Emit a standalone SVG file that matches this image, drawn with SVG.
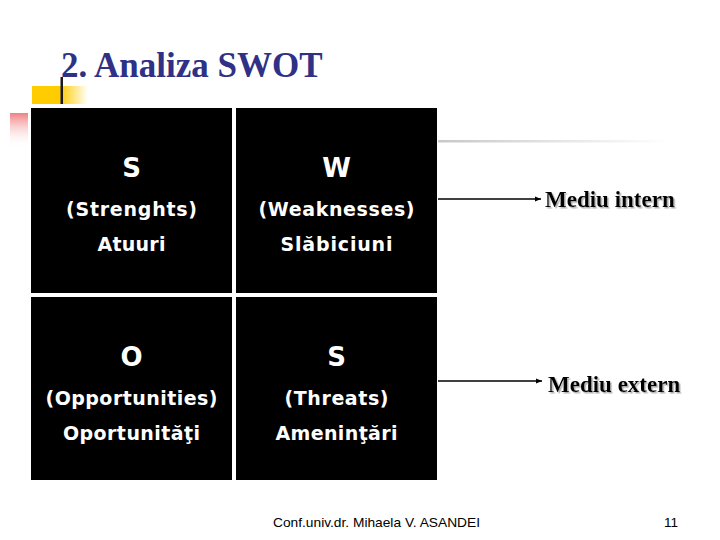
<svg xmlns="http://www.w3.org/2000/svg" width="720" height="540" viewBox="0 0 720 540">
<defs>
<linearGradient id="gY" x1="0" y1="0" x2="1" y2="0">
<stop offset="0" stop-color="#FFCC00"/><stop offset="0.5" stop-color="#FFCC00"/><stop offset="1" stop-color="#FFCC00" stop-opacity="0"/>
</linearGradient>
<linearGradient id="gR" x1="0" y1="0" x2="0" y2="1">
<stop offset="0" stop-color="#F08080"/><stop offset="1" stop-color="#FFFFFF" stop-opacity="0"/>
</linearGradient>
<linearGradient id="gG" x1="0" y1="0" x2="1" y2="0">
<stop offset="0" stop-color="#C8C8C8"/><stop offset="1" stop-color="#FFFFFF"/>
</linearGradient>
<marker id="ah" viewBox="0 0 6 6" refX="6" refY="3" markerWidth="6" markerHeight="6" markerUnits="userSpaceOnUse" orient="auto">
<path d="M0,0.5 L6,3 L0,5.5 Z" fill="#000"/>
</marker>
<filter id="sh" x="-10%" y="-30%" width="120%" height="160%">
<feDropShadow dx="1.5" dy="1.5" stdDeviation="0.6" flood-color="#999" flood-opacity="0.8"/>
</filter>
</defs>
<style>
.cell{fill:#000}
.big{font-family:"DejaVu Sans",Verdana,sans-serif;font-weight:bold;font-size:26px;fill:#fff;text-anchor:middle}
.mid{font-family:"DejaVu Sans",Verdana,sans-serif;font-weight:bold;font-size:19px;fill:#fff;text-anchor:middle}
.env{font-family:"Liberation Serif","Times New Roman",serif;font-weight:bold;font-size:23px;fill:#000;filter:url(#sh)}
.foot{font-family:"Liberation Sans",Arial,sans-serif;font-size:13.5px;fill:#000}
.conn{stroke:#000;stroke-width:1.5;fill:none;marker-end:url(#ah)}
</style>
<rect width="720" height="540" fill="#fff"/>
<g id="decor">
<rect x="32" y="86" width="56" height="18" fill="url(#gY)"/>
<rect x="10" y="113" width="18" height="35" fill="url(#gR)"/>
<rect x="438" y="140" width="232" height="2.5" fill="url(#gG)"/>
<rect x="60.5" y="77" width="2.5" height="27" fill="#1a1a1a"/>
</g>
<text id="title" x="61" y="77" font-family="'Liberation Serif','Times New Roman',serif" font-weight="bold" font-size="35" fill="#2E3185">2. Analiza SWOT</text>
<rect x="30" y="107" width="408" height="374" fill="#fff"/>
<g id="strengths">
<rect class="cell" x="31" y="108" width="201" height="185"/>
<text class="big" x="131.5" y="177">S</text>
<text class="mid" x="131.5" y="216" textLength="131" lengthAdjust="spacing">(Strenghts)</text>
<text class="mid" x="131.5" y="251" textLength="68" lengthAdjust="spacing">Atuuri</text>
</g>
<g id="weaknesses">
<rect class="cell" x="236" y="108" width="201" height="185"/>
<text class="big" x="336.5" y="177">W</text>
<text class="mid" x="336.5" y="216" textLength="156" lengthAdjust="spacing">(Weaknesses)</text>
<text class="mid" x="336.5" y="251" textLength="112" lengthAdjust="spacing">Slăbiciuni</text>
</g>
<g id="opportunities">
<rect class="cell" x="31" y="297" width="201" height="183"/>
<text class="big" x="131.5" y="366">O</text>
<text class="mid" x="131.5" y="405" textLength="172" lengthAdjust="spacing">(Opportunities)</text>
<text class="mid" x="131.5" y="440" textLength="137" lengthAdjust="spacing">Oportunităţi</text>
</g>
<g id="threats">
<rect class="cell" x="236" y="297" width="201" height="183"/>
<text class="big" x="336.5" y="366">S</text>
<text class="mid" x="336.5" y="405" textLength="104" lengthAdjust="spacing">(Threats)</text>
<text class="mid" x="336.5" y="440" textLength="122" lengthAdjust="spacing">Ameninţări</text>
</g>
<g id="connectors">
<line class="conn" x1="438" y1="199" x2="541" y2="199"/>
<line class="conn" x1="438" y1="381" x2="542" y2="381"/>
</g>
<g id="mediu-intern">
<text class="env" x="545" y="207">Mediu intern</text>
</g>
<g id="mediu-extern">
<text class="env" x="548" y="392">Mediu extern</text>
</g>
<g id="footer">
<text class="foot" x="273" y="527" textLength="207" lengthAdjust="spacingAndGlyphs">Conf.univ.dr. Mihaela V. ASANDEI</text>
<text class="foot" x="664" y="527">11</text>
</g>
</svg>
